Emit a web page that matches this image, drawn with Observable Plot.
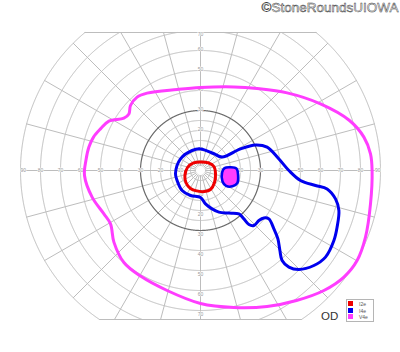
<!DOCTYPE html>
<html><head><meta charset="utf-8">
<script src="https://cdn.jsdelivr.net/npm/d3@7"></script>
<script src="https://cdn.jsdelivr.net/npm/@observablehq/plot@0.6"></script>
<style>
body{margin:0;background:#fff;font-family:"Liberation Sans",Arial,sans-serif}
#wrap{position:relative;width:400px;height:352px}
#legend{position:absolute;left:346px;top:299px;width:26px;height:21px;border:1px solid #b5b5b5;background:#fff;font-size:5px;color:#555}
#legend .row{position:absolute;left:1px;height:6px;line-height:6px;white-space:nowrap}
#legend .sw{display:inline-block;width:5px;height:5px;vertical-align:top;margin-right:6px}
#od{position:absolute;left:321px;top:310px;font-size:11.5px;line-height:13px;color:#333}
</style></head><body><div id="wrap"></div><script>
// Goldmann perimetry, right eye (OD). Isopter points in degrees (x: right, y: up)
const isopterNames = ["I2e", "I4e", "V4e"];
const isopterColors = ["#ee0000", "#0000ee", "#ff3dff"];
const copyright = "©StoneRoundsUIOWA";
const eyeLabel = "OD";

const i2e = [[0,4.3],[4,3.8],[6.7,2],[7.5,-1.5],[7,-6],[5,-9.5],[2,-10.5],[-2,-10.2],[-5,-9],[-7.3,-6],[-7.8,-2.5],[-6.5,1.5],[-3.5,3.8]];
const i4e = [[-12.5,-1.5],[-10,5.8],[-4.2,10],[0,10.8],[6.5,8.5],[10.8,6.7],[20,10.8],[27.5,12.8],[33.3,11.7],[39,6],[44.2,0],[50,-5],[57.5,-7.5],[63.3,-9.2],[67.5,-14.2],[69.2,-20],[68.3,-28.3],[66.7,-35],[62.5,-43.3],[56.7,-47.5],[49.2,-49.5],[44.2,-48.3],[40.8,-45],[39.7,-40],[38.7,-34.2],[36.7,-29.2],[34.2,-24.2],[31.7,-23.7],[29.2,-25],[26.7,-27.5],[24.2,-27],[21.7,-24.2],[19.2,-21.7],[14.2,-21.3],[9.2,-20.8],[5.8,-19.2],[2.5,-16.7],[0,-13.5],[-5,-12.5],[-9.2,-10],[-11.7,-5]];
const v4e = [[0,41.5],[16.7,41.8],[28.3,41],[43.3,38.8],[60,33.3],[74.5,25],[81.7,16.7],[85,8.3],[85.8,0],[85,-16.7],[82.5,-33.3],[78.3,-45],[71.7,-53.3],[61.7,-60],[48,-65],[33.3,-68],[16.7,-68.5],[0,-66.5],[-16.7,-60],[-30,-52.8],[-38.3,-46],[-43.3,-35.8],[-45,-26.7],[-48.3,-21.7],[-54.2,-13.3],[-58,-2.5],[-57.3,5],[-55.8,11.7],[-53.5,16.7],[-50,20.8],[-45.8,24.7],[-38.3,26.2],[-35.8,28.3],[-35,32.5],[-31.7,36.7],[-26.7,38.7],[-11.7,40.5]];
// blind spot tested with I4e (filled V4e)
const blindSpot = [[10.8,-1],[12,1.2],[15,1.6],[18,0.9],[18.8,-2.5],[18.4,-6.3],[16,-7.9],[12.8,-7.7],[11,-5.5]];

// chart grid
const rings = [5,10,15,20,25,30,40,50,60,70,80,90];
const darkRing = 30;
const meridians = d3.range(0, 360, 15);
const topLimit = 69, bottomLimit = -74.5, maxEcc = 90, innerEcc = 2.5;
const axisLabels = [10,20,30,40,50,60,70,80,90];
const vertLabels = [10,20,30,40,50,60,70];

const rad = Math.PI / 180;
const ringPts = [];
for (const r of rings) {
  for (let a = 0; a <= 360; a += 0.25) {
    const x = r * Math.cos(a * rad), y = r * Math.sin(a * rad);
    const ok = y <= topLimit && y >= bottomLimit;
    ringPts.push({r, x, y: ok ? y : NaN, dark: r === darkRing});
  }
}
const merPts = [];
for (const m of meridians) {
  const s = Math.sin(m * rad), c = Math.cos(m * rad);
  let rEnd = maxEcc;
  if (s > 1e-9) rEnd = Math.min(rEnd, topLimit / s);
  if (s < -1e-9) rEnd = Math.min(rEnd, bottomLimit / s);
  merPts.push({m, x: innerEcc * c, y: innerEcc * s}, {m, x: rEnd * c, y: rEnd * s});
}
const edgeTop = Math.sqrt(maxEcc ** 2 - topLimit ** 2);
const edgeBot = Math.sqrt(maxEcc ** 2 - bottomLimit ** 2);
const edges = [
  {e: "top", x: -edgeTop, y: topLimit}, {e: "top", x: edgeTop, y: topLimit},
  {e: "bot", x: -edgeBot, y: bottomLimit}, {e: "bot", x: edgeBot, y: bottomLimit}
];

const labels = [];
for (const v of axisLabels) {
  const p = Math.min(v, 88.6);
  labels.push({x: -p, y: 0, t: String(v)}, {x: p, y: 0, t: String(v)});
}
for (const v of vertLabels) {
  labels.push({x: 0, y: Math.min(v + 0.5, 68.3), t: String(v)});
  labels.push({x: 0, y: -(v + 2), t: String(v)});
}

const toObj = (arr, name) => arr.map(([x, y]) => ({x, y, name}));

const plot = Plot.plot({
  width: 400, height: 352,
  marginTop: 0, marginRight: 0, marginBottom: 0, marginLeft: 0,
  x: {domain: [-100, 100], axis: null},
  y: {domain: [-91, 85], axis: null},
  style: {background: "#fff", fontFamily: "Liberation Sans, Arial, sans-serif"},
  marks: [
    Plot.line(ringPts.filter(d => !d.dark), {x: "x", y: "y", z: "r", stroke: "#bdbdbd", strokeWidth: 1}),
    Plot.line(merPts, {x: "x", y: "y", z: "m", stroke: "#bdbdbd", strokeWidth: 1}),
    Plot.line(edges, {x: "x", y: "y", z: "e", stroke: "#bdbdbd", strokeWidth: 1}),
    Plot.line(ringPts.filter(d => d.dark), {x: "x", y: "y", z: "r", stroke: "#6a6a6a", strokeWidth: 1.2}),
    Plot.text(labels, {x: "x", y: "y", text: "t", fontSize: 5, fill: "#9a9a9a", stroke: "#fff", strokeWidth: 1}),
    Plot.line(toObj(v4e, "V4e"), {x: "x", y: "y", curve: "catmull-rom-closed", stroke: isopterColors[2], strokeWidth: 3}),
    Plot.line(toObj(i4e, "I4e"), {x: "x", y: "y", curve: "catmull-rom-closed", stroke: isopterColors[1], strokeWidth: 3}),
    Plot.line(toObj(blindSpot, "bs"), {x: "x", y: "y", curve: "catmull-rom-closed", fill: isopterColors[2], stroke: isopterColors[1], strokeWidth: 2.6}),
    Plot.line(toObj(i2e, "I2e"), {x: "x", y: "y", curve: "catmull-rom-closed", stroke: isopterColors[0], strokeWidth: 3}),
    Plot.text([copyright], {frameAnchor: "top-right", dx: -2, dy: 2, fontSize: 13.5, fill: "#fff", stroke: "#3a3a3a", strokeWidth: 0.5, className: "copy"})
  ]
});
d3.select(plot).selectAll(".copy, .copy text").attr("paint-order", "normal");
const wrap = document.getElementById("wrap");
wrap.appendChild(plot);

const od = document.createElement("div");
od.id = "od"; od.textContent = eyeLabel;
wrap.appendChild(od);
const leg = document.createElement("div");
leg.id = "legend";
isopterNames.forEach((n, i) => {
  const row = document.createElement("div");
  row.className = "row";
  row.style.top = (1 + i * 6.7) + "px";
  row.innerHTML = `<span class="sw" style="background:${isopterColors[i]}"></span>${n}`;
  leg.appendChild(row);
});
wrap.appendChild(leg);
</script></body></html>
